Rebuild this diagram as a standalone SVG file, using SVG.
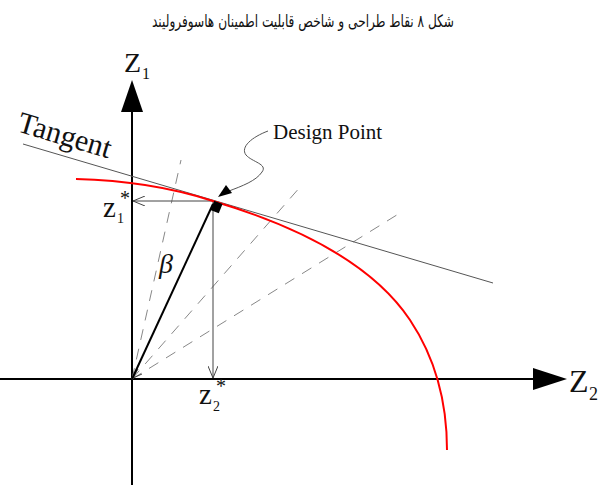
<svg xmlns="http://www.w3.org/2000/svg" width="603" height="485" viewBox="0 0 603 485">
<style>
.serif{font-family:"Liberation Serif","Times New Roman",serif;fill:#111}
.axis{stroke:#000;stroke-width:2;fill:none}
.thin{stroke:#444;stroke-width:1;fill:none}
.dash{stroke:#888;stroke-width:1;fill:none;stroke-dasharray:11 9}
</style>
<defs>
<marker id="vhead" viewBox="0 0 12 10" refX="12" refY="5" markerWidth="12" markerHeight="10" markerUnits="userSpaceOnUse" orient="auto">
<path d="M0,0 L12,5 L0,10" fill="none" stroke="#444" stroke-width="1"/>
</marker>
</defs>
<rect width="603" height="485" fill="#fff"/>
<text x="303" y="27" text-anchor="middle" direction="rtl" font-family="'DejaVu Sans',sans-serif" font-size="17" textLength="302" lengthAdjust="spacingAndGlyphs" fill="#111">شکل ۸ نقاط طراحی و شاخص قابلیت اطمینان هاسوفرولیند</text>

<g id="axes">
<line class="axis" x1="132" y1="110" x2="132" y2="485"/>
<polygon points="132,80 121,112 143,112" fill="#000"/>
<line class="axis" x1="0" y1="379" x2="535" y2="379"/>
<polygon points="567,379 533,368 533,390" fill="#000"/>
<text class="serif" x="124" y="72" font-size="28">Z</text>
<text class="serif" x="142" y="79" font-size="16">1</text>
<text class="serif" x="569" y="392" font-size="32">Z</text>
<text class="serif" x="589" y="400" font-size="18">2</text>
</g>

<g id="connectors">
<line class="dash" x1="132" y1="379" x2="181" y2="160"/>
<line class="dash" x1="132" y1="379" x2="301" y2="186"/>
<line class="dash" x1="132" y1="379" x2="400" y2="213"/>
<polyline points="138,369 133,378 142,374" class="thin" stroke="#888"/>
<line x1="23" y1="144" x2="493" y2="283" stroke="#555" stroke-width="1"/>
<line class="thin" x1="213" y1="201" x2="133" y2="201" marker-end="url(#vhead)"/>
<line class="thin" x1="213" y1="201" x2="213" y2="378" marker-end="url(#vhead)"/>
<line x1="132" y1="379" x2="213" y2="204" stroke="#000" stroke-width="2"/>
</g>

<g id="limit-state">
<path d="M76,179 C120,180 170,187 213,201 C290,224 370,260 410,320 C440,365 447,410 447,450" fill="none" stroke="#f00" stroke-width="2"/>
</g>

<g id="tangent-label">
<text class="serif" x="16" y="131" font-size="30" transform="rotate(16.5 16 131)">Tangent</text>
</g>

<g id="design-point">
<rect x="-4.5" y="-5" width="9" height="10" fill="#000" transform="translate(216.5 207) rotate(22)"/>
<path d="M268,131 C252,137 240,147 246,155 C252,162 268,164 262,172 C256,181 242,186 229,191" fill="none" stroke="#555" stroke-width="1"/>
<polygon points="218,197 226,185 232,193" fill="#000"/>
<text class="serif" x="273" y="139" font-size="21">Design Point</text>
</g>

<g id="beta-label">
<text class="serif" x="159" y="273" font-size="28" font-style="italic">β</text>
</g>

<g id="z1star">
<text class="serif" x="103" y="217" font-size="29">z</text>
<text class="serif" x="117" y="223" font-size="14">1</text>
<text class="serif" x="120" y="205" font-size="20">*</text>
</g>

<g id="z2star">
<text class="serif" x="199" y="404" font-size="29">z</text>
<text class="serif" x="213" y="411" font-size="14">2</text>
<text class="serif" x="216" y="393" font-size="20">*</text>
</g>
</svg>
